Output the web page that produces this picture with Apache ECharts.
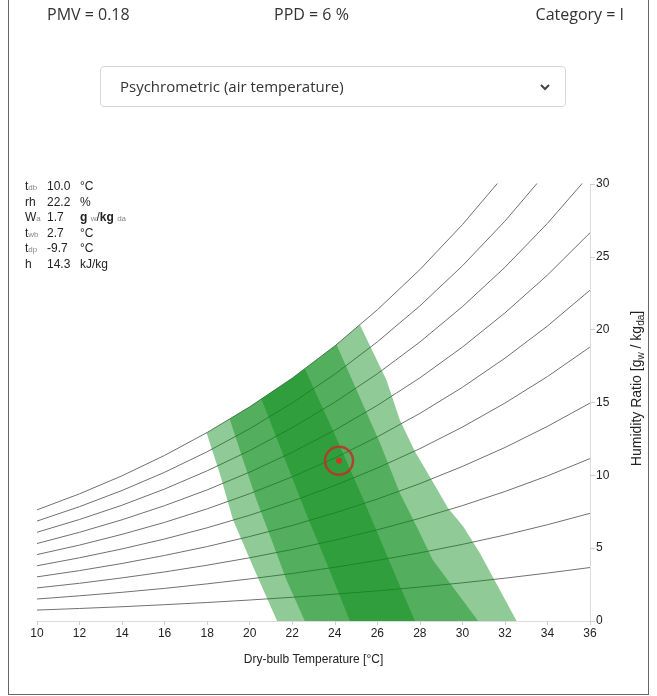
<!DOCTYPE html>
<html>
<head>
<meta charset="utf-8">
<script src="https://cdn.jsdelivr.net/npm/echarts@6/dist/echarts.min.js"></script>
<style>
  body { margin: 0; background: #fff; }
  #wrap { position: relative; width: 657px; height: 696px; overflow: hidden; font-family: 'Open Sans', 'Noto Sans', sans-serif; color: #333; }
  #frame { position: absolute; left: 8px; top: -2px; width: 641px; height: 697px; border: 1px solid #666; box-sizing: border-box; }
  #chart { position: absolute; left: 0; top: 0; width: 657px; height: 696px; }
  .hd { position: absolute; top: 4px; font-size: 16px; line-height: 20px; white-space: nowrap; }
  #sel { position: absolute; left: 100px; top: 66px; width: 466px; height: 41px; border: 1px solid #d6d9dc; border-radius: 4px; box-sizing: border-box; font-size: 15px; line-height: 39px; padding-left: 19px; }
  #sel svg { position: absolute; right: 14px; top: 15px; }
  #info { position: absolute; left: 25px; top: 179px; font-family: 'Liberation Sans', Arial, sans-serif; font-size: 12px; color: #222; }
  #info div { height: 15.6px; line-height: 15.6px; position: relative; width: 130px; }
  #info span { position: absolute; white-space: nowrap; }
  #info .s { font-size: 8px; color: #888; position: static; font-weight: normal; }
  #info b { font-weight: bold; }
</style>
</head>
<body>
<div id="wrap">
  <div id="chart"></div>
  <div id="frame"></div>
  <div class="hd" style="left:47px">PMV = 0.18</div>
  <div class="hd" style="left:274px">PPD = 6 %</div>
  <div class="hd" style="right:33px">Category = I</div>
  <div id="sel">Psychrometric (air temperature)
    <svg width="12" height="10" viewBox="0 0 12 10"><path d="M2 3 L6 7 L10 3" fill="none" stroke="#444" stroke-width="2"/></svg>
  </div>
  <div id="info">
    <div><span style="left:0">t<span class="s">db</span></span><span style="left:22px">10.0</span><span style="left:55px">°C</span></div>
    <div><span style="left:0">rh</span><span style="left:22px">22.2</span><span style="left:55px">%</span></div>
    <div><span style="left:0">W<span class="s">a</span></span><span style="left:22px">1.7</span><span style="left:55px"><b>g</b> <span class="s">w</span>/<b>kg</b> <span class="s">da</span></span></div>
    <div><span style="left:0">t<span class="s">wb</span></span><span style="left:22px">2.7</span><span style="left:55px">°C</span></div>
    <div><span style="left:0">t<span class="s">dp</span></span><span style="left:22px">-9.7</span><span style="left:55px">°C</span></div>
    <div><span style="left:0">h</span><span style="left:22px">14.3</span><span style="left:55px">kJ/kg</span></div>
  </div>
</div>
<script>
// dry-bulb temperatures (°C) where the RH curves are sampled
var temps = [10, 12, 14, 16, 18, 20, 22, 24, 26, 28, 30, 32, 34, 36]

// humidity ratio (g/kg) for each relative humidity curve
var rh10 = [0.75, 0.86, 0.98, 1.12, 1.27, 1.44, 1.63, 1.84, 2.07, 2.33, 2.62, 2.94, 3.29, 3.67]
var rh20 = [1.51, 1.73, 1.97, 2.24, 2.55, 2.89, 3.26, 3.69, 4.16, 4.68, 5.26, 5.90, 6.61, 7.39]
var rh30 = [2.27, 2.59, 2.96, 3.37, 3.83, 4.34, 4.91, 5.55, 6.26, 7.05, 7.92, 8.89, 9.96, 11.15]
var rh40 = [3.03, 3.46, 3.95, 4.50, 5.11, 5.80, 6.56, 7.42, 8.37, 9.43, 10.61, 11.91, 13.36, 14.96]
var rh50 = [3.79, 4.34, 4.95, 5.63, 6.40, 7.26, 8.23, 9.30, 10.50, 11.83, 13.31, 14.96, 16.78, 18.81]
var rh60 = [4.56, 5.21, 5.95, 6.77, 7.70, 8.74, 9.90, 11.19, 12.64, 14.25, 16.04, 18.04, 20.25, 22.71]
var rh70 = [5.32, 6.09, 6.95, 7.92, 9.00, 10.22, 11.58, 13.10, 14.80, 16.69, 18.80, 21.15, 23.75, 26.65]
var rh80 = [6.09, 6.97, 7.95, 9.06, 10.31, 11.70, 13.27, 15.02, 16.97, 19.15, 21.58, 24.28, 27.30, 30.65]
var rh90 = [6.86, 7.85, 8.96, 10.21, 11.62, 13.20, 14.97, 16.94, 19.16, 21.63, 24.38, 27.45, 30.88, 34.69]
var rh100 = [7.63, 8.73, 9.97, 11.37, 12.94, 14.70, 16.67, 18.88, 21.36, 24.12, 27.21, 30.65, 34.50, 38.79]

// comfort zone edges [t, W], from W = 0 up to the saturation curve
var pmvM07 = [[21.29, 0], [20.16, 3.73], [19.22, 6.94], [18.59, 10.14], [17.97, 12.92]]
var pmvM05 = [[22.59, 0], [21.73, 2.82], [21.03, 5.56], [20.32, 8.31], [19.69, 11.06], [19.06, 13.87]]
var pmvM02 = [[24.71, 0], [23.75, 3.5], [22.62, 7.5], [21.55, 11.5], [20.55, 15.24]]
var pmvP02 = [[27.77, 0], [26.6, 4.0], [25.3, 8.5], [24.0, 12.8], [22.59, 17.32]]
var pmvP05 = [[30.74, 0], [28.61, 4.19], [27.85, 6.48], [27.06, 8.79], [26.12, 12.23], [24.08, 18.98]]
var pmvP07 = [[32.55, 0], [30.82, 4.67], [30.04, 6.48], [29.33, 7.74], [28.47, 9.91], [27.77, 11.63], [27.06, 13.8], [26.43, 16.55], [25.18, 20.34]]

// current condition
var point = [24.2, 11.0]

var xTicks = { min: 10, max: 36, step: 2 }
var yTicks = { min: 0, max: 30, step: 5 }

var rhCurves = [rh10, rh20, rh30, rh40, rh50, rh60, rh70, rh80, rh90, rh100]

// left edge up, along saturation, right edge down
function zone(left, right) {
  var pts = left.slice()
  var tl = left[left.length - 1][0]
  var tr = right[right.length - 1][0]
  temps.forEach(function(t, i) {
    if (t > tl && t < tr) pts.push([t, rh100[i]])
  })
  return pts.concat(right.slice().reverse())
}
var zones = [zone(pmvM07, pmvP07), zone(pmvM05, pmvP05), zone(pmvM02, pmvP02)]

var axisFont = 'Liberation Sans, Arial, sans-serif'
var series = []

rhCurves.forEach(function(arr) {
  series.push({
    type: 'line',
    data: temps.map(function(t, i) { return [t, arr[i]] }),
    symbol: 'none',
    silent: true,
    clip: true,
    lineStyle: { color: '#707070', width: 1 },
    z: 1
  })
})

zones.forEach(function(pts) {
  series.push({
    type: 'custom',
    silent: true,
    z: 2,
    data: [[20, 10]],
    renderItem: function(params, api) {
      return {
        type: 'polygon',
        shape: { points: pts.map(function(p) { return api.coord(p) }) },
        style: { fill: 'rgba(8,140,24,0.45)' }
      }
    }
  })
})

series.push({
  type: 'scatter',
  data: [point],
  symbolSize: 28,
  silent: true,
  z: 5,
  itemStyle: { color: 'transparent', borderColor: '#c62a22', borderWidth: 2.5 }
})
series.push({
  type: 'scatter',
  data: [point],
  symbolSize: 6,
  silent: true,
  z: 6,
  itemStyle: { color: '#e8231c' }
})

var myChart = echarts.init(document.getElementById('chart'))
myChart.setOption({
  animation: false,
  grid: { left: 37, right: 67, top: 184, bottom: 75 },
  xAxis: {
    type: 'value',
    min: xTicks.min,
    max: xTicks.max,
    interval: xTicks.step,
    name: 'Dry-bulb Temperature [°C]',
    nameLocation: 'middle',
    nameGap: 33,
    nameTextStyle: { fontFamily: axisFont, fontSize: 12, color: '#222' },
    axisLine: { lineStyle: { color: '#dcdcdc' } },
    axisTick: { length: 4, lineStyle: { color: '#cfcfcf' } },
    axisLabel: { fontFamily: axisFont, fontSize: 12, color: '#222', margin: 7 },
    splitLine: { show: false }
  },
  yAxis: {
    type: 'value',
    position: 'right',
    min: yTicks.min,
    max: yTicks.max,
    interval: yTicks.step,
    name: 'Humidity Ratio [g{s|w} / kg{s|da}]',
    nameLocation: 'middle',
    nameGap: 39,
    nameTextStyle: {
      fontFamily: axisFont, fontSize: 14, color: '#222', lineHeight: 17,
      padding: [0, 0, 0, 28],
      rich: { s: { fontFamily: axisFont, fontSize: 10, color: '#222', lineHeight: 8, verticalAlign: 'bottom' } }
    },
    axisLine: { show: true, lineStyle: { color: '#dcdcdc' } },
    axisTick: { show: true, length: 5, lineStyle: { color: '#cfcfcf' } },
    axisLabel: { fontFamily: axisFont, fontSize: 12, color: '#222', margin: 6 },
    splitLine: { show: false }
  },
  series: series
})
</script>
</body>
</html>
